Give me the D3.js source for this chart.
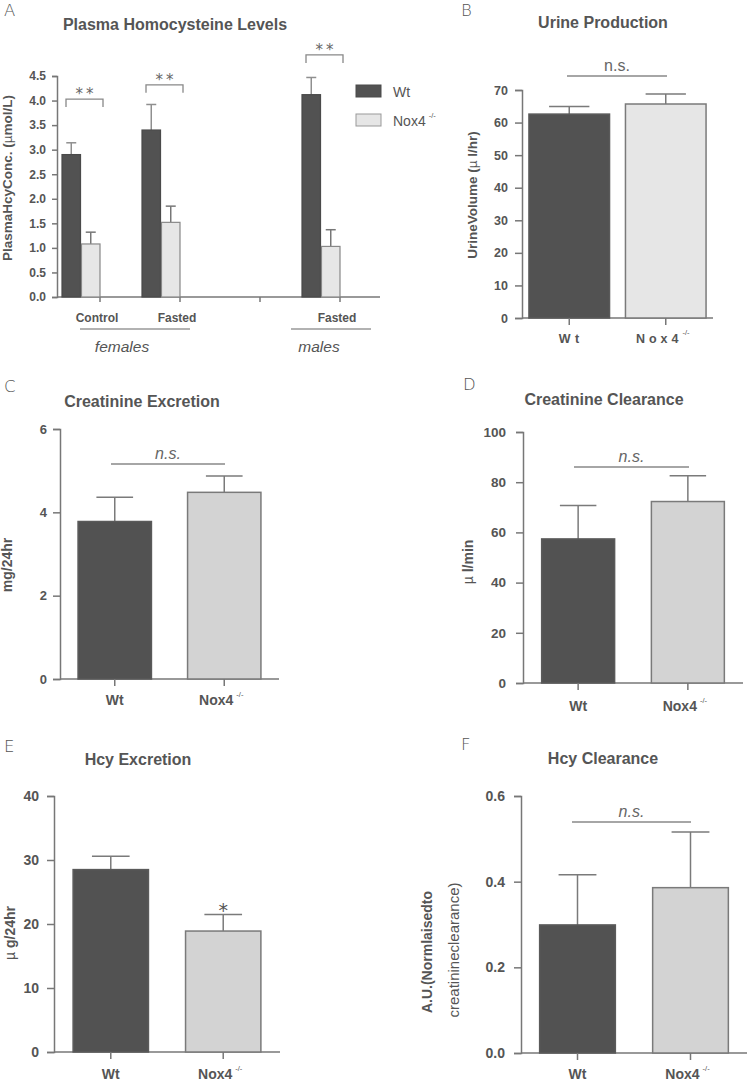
<!DOCTYPE html>
<html>
<head>
<meta charset="utf-8">
<script src="https://cdn.jsdelivr.net/npm/d3@7"></script>
<style>
  html, body { margin: 0; padding: 0; background: #fff; }
  svg { display: block; font-family: "Liberation Sans", Arial, sans-serif; }
</style>
</head>
<body>
<svg id="chart" width="747" height="1081"></svg>
<script>
// ---------- DATA ----------
const genotypes = ["Wt", "Nox4"];

// Panel A: Plasma homocysteine (µmol/L)
const plasmaGroups = ["Control", "Fasted", "", "Fasted males"];
const plasmaGroupLabels = ["Control", "Fasted", "", "Fasted"];
const plasmaWtMean = [2.90, 3.40, null, 4.12];
const plasmaWtErr  = [0.24, 0.52, null, 0.35];
const plasmaNoxMean = [1.08, 1.52, null, 1.03];
const plasmaNoxErr  = [0.24, 0.33, null, 0.34];
const plasmaTicks = [0, 0.5, 1, 1.5, 2, 2.5, 3, 3.5, 4, 4.5];
const plasmaSig = ["**", "**", null, "**"];
const plasmaSigLevel = [4.03, 4.32, null, 4.93];

// Panel B: Urine production (µl/hr)
const urineMean = [62.6, 65.7];
const urineErr  = [2.3, 3.1];
const urineTicks = [0, 10, 20, 30, 40, 50, 60, 70];

// Panel C: Creatinine excretion (mg/24hr)
const creatExcMean = [3.78, 4.48];
const creatExcErr  = [0.58, 0.39];
const creatExcTicks = [0, 2, 4, 6];

// Panel D: Creatinine clearance (µl/min)
const creatClrMean = [57.4, 72.3];
const creatClrErr  = [13.3, 10.3];
const creatClrTicks = [0, 20, 40, 60, 80, 100];

// Panel E: Hcy excretion (µg/24hr)
const hcyExcMean = [28.5, 18.9];
const hcyExcErr  = [2.1, 2.6];
const hcyExcTicks = [0, 10, 20, 30, 40];

// Panel F: Hcy clearance (A.U.)
const hcyClrMean = [0.299, 0.386];
const hcyClrErr  = [0.117, 0.130];
const hcyClrTicks = [0, 0.2, 0.4, 0.6];

// ---------- STYLE ----------
const TEXT = "#555";
const AXIS = "#777";
const WT_FILL = "#525252";
const NOX_FILL_A = "#e6e6e6";
const NOX_FILL = "#d3d3d3";
const ERR = "#7a7a7a";

const svg = d3.select("#chart");

function panelLetter(x, y, t) {
  svg.append("text").attr("x", x).attr("y", y).text(t)
    .attr("font-size", 16.5).attr("fill", TEXT)
    .attr("font-family", "'DejaVu Sans', sans-serif").style("font-weight", "200");
}
function title(x, y, t) {
  svg.append("text").attr("x", x).attr("y", y).text(t)
    .attr("text-anchor", "middle").attr("font-size", 16)
    .attr("font-weight", "bold").attr("fill", TEXT);
}
function yLabel(x, y, t, opts = {}) {
  const el = svg.append("text").attr("transform", `translate(${x},${y}) rotate(-90)`)
    .attr("text-anchor", "middle").attr("font-size", opts.size || 14)
    .attr("font-weight", opts.weight || "bold").attr("fill", TEXT);
  if (opts.spans) {
    opts.spans.forEach(s => {
      const ts = el.append("tspan").text(s.t);
      if (s.weight) ts.attr("font-weight", s.weight);
    });
  } else el.text(t);
  return el;
}
function styleAxis(g, size) {
  g.selectAll("path.domain").attr("stroke", AXIS).attr("stroke-width", 1.5);
  g.selectAll(".tick line").attr("stroke", AXIS).attr("stroke-width", 1.5);
  g.selectAll(".tick text").attr("fill", TEXT).attr("font-size", size)
    .attr("font-weight", "bold").attr("font-family", "'Liberation Sans', Arial, sans-serif");
}
function genoLabel(g, x, y, name, spaced, size) {
  const t = g.append("text").attr("x", x).attr("y", y).attr("fill", TEXT)
    .attr("font-size", size).attr("font-weight", "bold").attr("text-anchor", "middle");
  if (name === "Wt") {
    t.text("Wt");
    if (spaced) t.attr("letter-spacing", 4.5).attr("dx", 2);
  } else {
    t.append("tspan").text("Nox4").attr("letter-spacing", spaced ? 4 : 0);
    t.append("tspan").text("-/-").attr("font-size", 7.5).attr("font-weight", "normal")
      .attr("dy", -8).attr("dx", spaced ? 0 : 3);
  }
}

// ---------- PANEL A ----------
(function () {
  const y = d3.scaleLinear().domain([0, 4.5]).range([297, 76]);
  const x = d3.scaleBand().domain(plasmaGroups).range([60, 380]).padding(0);
  const xs = d3.scaleBand().domain(genotypes).range([2, 40]).paddingInner(0.05);

  panelLetter(4, 16, "A");
  title(175, 30, "Plasma Homocysteine Levels");

  const ga = svg.append("g").attr("transform", "translate(57,0)")
    .call(d3.axisLeft(y).tickValues(plasmaTicks).tickFormat(d3.format(".1f")).tickSizeOuter(0).tickSize(5).tickPadding(6));
  styleAxis(ga, 12);

  svg.append("line").attr("x1", 57).attr("x2", 380).attr("y1", y(0)).attr("y2", y(0))
    .attr("stroke", AXIS).attr("stroke-width", 1.5);
  svg.selectAll(".xtA").data(plasmaGroups).join("line")
    .attr("x1", d => x(d) + x.bandwidth() / 2).attr("x2", d => x(d) + x.bandwidth() / 2)
    .attr("y1", y(0)).attr("y2", y(0) + 5).attr("stroke", AXIS).attr("stroke-width", 1.5);

  plasmaGroups.forEach((g, i) => {
    if (plasmaWtMean[i] == null) return;
    const series = [
      { k: "Wt", m: plasmaWtMean[i], e: plasmaWtErr[i], fill: WT_FILL, stroke: "#4a4a4a", ec: "#8f8f8f" },
      { k: "Nox4", m: plasmaNoxMean[i], e: plasmaNoxErr[i], fill: NOX_FILL_A, stroke: "#888", ec: "#777" }
    ];
    series.forEach(s => {
      const bx = x(g) + xs(s.k);
      const cx = bx + xs.bandwidth() / 2;
      svg.append("line").attr("x1", cx).attr("x2", cx).attr("y1", y(s.m)).attr("y2", y(s.m + s.e))
        .attr("stroke", s.ec).attr("stroke-width", 1.5);
      svg.append("line").attr("x1", cx - 5).attr("x2", cx + 5).attr("y1", y(s.m + s.e)).attr("y2", y(s.m + s.e))
        .attr("stroke", s.ec).attr("stroke-width", 1.5);
      svg.append("rect").attr("x", bx).attr("width", xs.bandwidth())
        .attr("y", y(s.m)).attr("height", y(0) - y(s.m))
        .attr("fill", s.fill).attr("stroke", s.stroke).attr("stroke-width", 1.2);
    });
    // significance bracket
    const by = y(plasmaSigLevel[i]);
    const x1 = x(g) + 6, x2 = x(g) + 43;
    svg.append("path").attr("d", `M${x1},${by + 8}V${by}H${x2}V${by + 8}`)
      .attr("fill", "none").attr("stroke", "#888").attr("stroke-width", 1.3);
    svg.append("text").attr("x", (x1 + x2) / 2 + 1.5).attr("y", by).text(plasmaSig[i])
      .attr("text-anchor", "middle").attr("font-size", 15).attr("fill", "#666")
      .attr("letter-spacing", 3)
      .attr("font-family", "'DejaVu Sans', sans-serif");
    // group label
    svg.append("text").attr("x", x(g) + x.bandwidth() / 2 - 3).attr("y", 322).text(plasmaGroupLabels[i])
      .attr("text-anchor", "middle").attr("font-size", 12).attr("font-weight", "bold").attr("fill", TEXT);
  });

  // sex grouping lines
  svg.append("line").attr("x1", 80).attr("x2", 190).attr("y1", 329).attr("y2", 329).attr("stroke", "#666").attr("stroke-width", 1.2);
  svg.append("line").attr("x1", 291).attr("x2", 371).attr("y1", 329).attr("y2", 329).attr("stroke", "#666").attr("stroke-width", 1.2);
  svg.append("text").attr("x", 122).attr("y", 352).text("females").attr("text-anchor", "middle")
    .attr("font-size", 15.5).attr("font-style", "italic").attr("fill", TEXT);
  svg.append("text").attr("x", 319).attr("y", 352).text("males").attr("text-anchor", "middle")
    .attr("font-size", 15.5).attr("font-style", "italic").attr("fill", TEXT);

  yLabel(12, 178, null, {
    size: 13.5, spans: [{ t: "PlasmaHcyConc. (" }, { t: "µ", weight: "normal" }, { t: "mol/L)" }]
  });

  // legend
  const leg = [{ k: "Wt", fill: WT_FILL, stroke: "#4a4a4a" }, { k: "Nox4", fill: NOX_FILL_A, stroke: "#999" }];
  leg.forEach((l, i) => {
    svg.append("rect").attr("x", 356).attr("y", 85 + i * 29).attr("width", 25).attr("height", 12)
      .attr("fill", l.fill).attr("stroke", l.stroke).attr("stroke-width", 1);
    const t = svg.append("text").attr("x", 393).attr("y", 97 + i * 29).attr("font-size", 14).attr("fill", TEXT);
    t.append("tspan").text(l.k);
    if (l.k === "Nox4") t.append("tspan").text("-/-").attr("font-size", 7.5).attr("dy", -8).attr("dx", 3);
  });
})();

// ---------- GENERIC TWO-BAR PANELS ----------
function twoBarPanel(cfg) {
  const y = d3.scaleLinear().domain([0, cfg.max]).range([cfg.y0, cfg.y1]);
  const x = d3.scaleBand().domain(genotypes).range([cfg.ax, cfg.axEnd])
    .paddingInner(cfg.pi).paddingOuter(cfg.po);

  panelLetter(cfg.letterX, cfg.letterY, cfg.letter);
  title(cfg.titleX, cfg.titleY, cfg.title);

  const ga = svg.append("g").attr("transform", `translate(${cfg.ax},0)`)
    .call(d3.axisLeft(y).tickValues(cfg.ticks).tickFormat(cfg.fmt).tickSizeOuter(0).tickSize(7).tickPadding(cfg.tp));
  styleAxis(ga, cfg.fs);

  svg.append("line").attr("x1", cfg.ax).attr("x2", cfg.axEnd).attr("y1", y(0)).attr("y2", y(0))
    .attr("stroke", AXIS).attr("stroke-width", 1.5);

  const rows = genotypes.map((k, i) => ({ k, m: cfg.mean[i], e: cfg.err[i] }));
  const g = svg.append("g");
  rows.forEach((r, i) => {
    const cx = x(r.k) + x.bandwidth() / 2;
    const hw = x.bandwidth() / 4;
    g.append("line").attr("x1", cx).attr("x2", cx).attr("y1", y(r.m)).attr("y2", y(r.m + r.e))
      .attr("stroke", ERR).attr("stroke-width", 1.5);
    g.append("line").attr("x1", cx - hw).attr("x2", cx + hw).attr("y1", y(r.m + r.e)).attr("y2", y(r.m + r.e))
      .attr("stroke", ERR).attr("stroke-width", 1.5);
    g.append("rect").attr("x", x(r.k)).attr("width", x.bandwidth())
      .attr("y", y(r.m)).attr("height", y(0) - y(r.m))
      .attr("fill", i === 0 ? WT_FILL : cfg.noxFill)
      .attr("stroke", i === 0 ? "#5a5a5a" : "#7a7a7a").attr("stroke-width", 1.5);
    g.append("line").attr("x1", cx).attr("x2", cx).attr("y1", y(0)).attr("y2", y(0) + 7)
      .attr("stroke", AXIS).attr("stroke-width", 1.5);
    genoLabel(g, cx + (i === 1 ? -3 : 0), y(0) + cfg.labDy, r.k, cfg.spaced, cfg.xfs);
  });

  if (cfg.ns) {
    const ny = cfg.nsY;
    svg.append("line").attr("x1", cfg.nsX1).attr("x2", cfg.nsX2).attr("y1", ny).attr("y2", ny)
      .attr("stroke", "#888").attr("stroke-width", 1.5);
    svg.append("text").attr("x", (cfg.nsX1 + cfg.nsX2) / 2).attr("y", ny - 5).text("n.s.")
      .attr("text-anchor", "middle").attr("font-size", 16).attr("fill", "#666")
      .attr("font-style", cfg.nsItalic ? "italic" : "normal");
  }
  if (cfg.star) {
    const cx = x("Nox4") + x.bandwidth() / 2;
    svg.append("text").attr("x", cx).attr("y", y(cfg.mean[1] + cfg.err[1]) + 3).text("*")
      .attr("text-anchor", "middle").attr("font-size", 19).attr("fill", TEXT)
      .attr("font-family", "'DejaVu Sans', sans-serif");
  }
  return { x, y };
}

// Panel B
twoBarPanel({
  letter: "B", letterX: 461, letterY: 16, title: "Urine Production", titleX: 603, titleY: 28,
  max: 70, y0: 318, y1: 90, ax: 522, axEnd: 713, pi: 0.165, po: 0.072, tp: 7, fs: 12.5, xfs: 12.5,
  ticks: urineTicks, fmt: d3.format("d"), mean: urineMean, err: urineErr, noxFill: NOX_FILL_A,
  labDy: 25, spaced: true, ns: true, nsX1: 567, nsX2: 667, nsY: 76, nsItalic: false
});
yLabel(477, 195, null, { size: 13.5, spans: [{ t: "UrineVolume (" }, { t: "µ", weight: "normal" }, { t: " l/hr)" }] });

// Panel C
twoBarPanel({
  letter: "C", letterX: 4, letterY: 392, title: "Creatinine Excretion", titleX: 142, titleY: 407,
  max: 6, y0: 679, y1: 429, ax: 60, axEnd: 279, pi: 0.33, po: 0.165, tp: 6, fs: 13, xfs: 14,
  ticks: creatExcTicks, fmt: d3.format("d"), mean: creatExcMean, err: creatExcErr, noxFill: NOX_FILL,
  labDy: 26, spaced: false, ns: true, nsX1: 111, nsX2: 225, nsY: 464, nsItalic: true
});
yLabel(12, 565, "mg/24hr", { size: 14 });

// Panel D
twoBarPanel({
  letter: "D", letterX: 463, letterY: 390, title: "Creatinine Clearance", titleX: 604, titleY: 405,
  max: 100, y0: 683, y1: 432, ax: 523, axEnd: 743, pi: 0.335, po: 0.17, tp: 10, fs: 13.5, xfs: 14,
  ticks: creatClrTicks, fmt: d3.format("d"), mean: creatClrMean, err: creatClrErr, noxFill: NOX_FILL,
  labDy: 28, spaced: false, ns: true, nsX1: 574, nsX2: 689, nsY: 467, nsItalic: true
});
yLabel(473, 562, null, { size: 14, spans: [{ t: "µ", weight: "normal" }, { t: " l/min" }] });

// Panel E
twoBarPanel({
  letter: "E", letterX: 4, letterY: 752, title: "Hcy Excretion", titleX: 138, titleY: 765,
  max: 40, y0: 1052, y1: 796, ax: 54, axEnd: 280, pi: 0.33, po: 0.17, tp: 8, fs: 14, xfs: 14,
  ticks: hcyExcTicks, fmt: d3.format("d"), mean: hcyExcMean, err: hcyExcErr, noxFill: NOX_FILL,
  labDy: 27, spaced: false, ns: false, star: true
});
yLabel(15, 933, null, { size: 14, spans: [{ t: "µ", weight: "normal" }, { t: " g/24hr" }] });

// Panel F
twoBarPanel({
  letter: "F", letterX: 461, letterY: 750, title: "Hcy Clearance", titleX: 603, titleY: 764,
  max: 0.6, y0: 1053, y1: 796, ax: 521, axEnd: 747, pi: 0.33, po: 0.165, tp: 9, fs: 14, xfs: 14,
  ticks: hcyClrTicks, fmt: d3.format(".1f"), mean: hcyClrMean, err: hcyClrErr, noxFill: NOX_FILL,
  labDy: 26, spaced: false, ns: true, nsX1: 572, nsX2: 691, nsY: 822, nsItalic: true
});
yLabel(432, 952, "A.U.(Normlaisedto", { size: 14 });
yLabel(459, 950, "creatinineclearance)", { size: 15, weight: "normal" });
</script>
</body>
</html>
